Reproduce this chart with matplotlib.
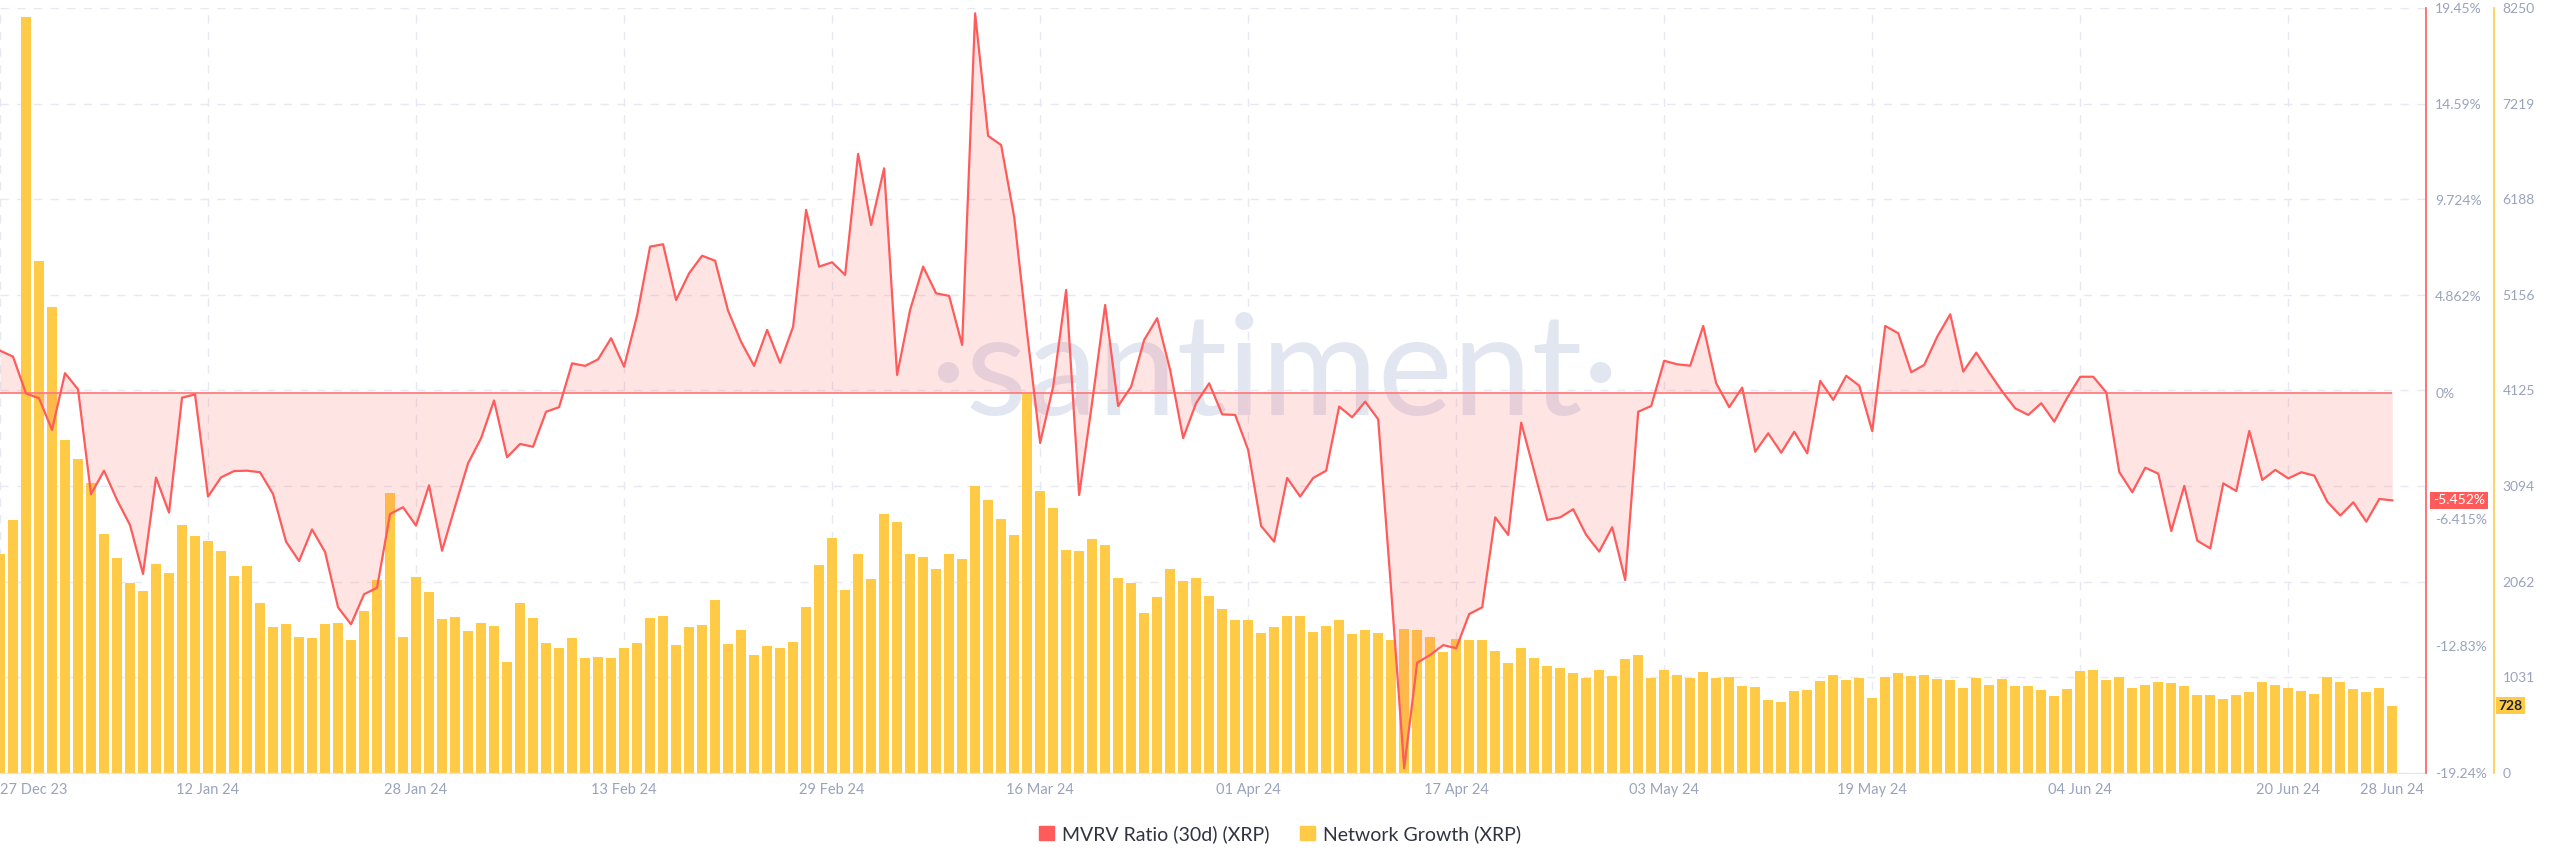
import pandas as pd
import matplotlib
matplotlib.use('Agg')
import matplotlib.pyplot as plt
from matplotlib.patches import Patch

# Daily values, 27 Dec 2023 -> 28 Jun 2024
dates = pd.date_range('2023-12-27', '2024-06-28', freq='D')

network_growth = [
    2358, 2732, 8156, 5521, 5025, 3595, 3390, 3128, 2581, 2315,
    2049, 1959, 2250, 2153, 2678, 2556, 2499, 2394, 2125, 2236,
    1833, 1571, 1611, 1467, 1452, 1603, 1618, 1438, 1747, 2078,
    3016, 1463, 2110, 1952, 1657, 1686, 1535, 1621, 1582, 1197,
    1833, 1672, 1406, 1352, 1456, 1244, 1255, 1237, 1345, 1406,
    1672, 1693, 1380, 1571, 1596, 1866, 1391, 1539, 1269, 1373,
    1345, 1409, 1787, 2243, 2531, 1970, 2358, 2092, 2793, 2703,
    2366, 2326, 2200, 2366, 2304, 3099, 2944, 2743, 2570, 4090,
    3041, 2862, 2409, 2394, 2524, 2463, 2100, 2046, 1729, 1895,
    2197, 2071, 2100, 1913, 1769, 1647, 1647, 1510, 1575, 1693,
    1697, 1521, 1582, 1647, 1496, 1539, 1513, 1438, 1553, 1542,
    1467, 1309, 1445, 1434, 1431, 1319, 1183, 1348, 1240, 1158,
    1129, 1075, 1028, 1107, 1043, 1229, 1276, 1028, 1107, 1061,
    1021, 1089, 1021, 1035, 942, 928, 784, 769, 884, 892,
    989, 1061, 1007, 1021, 812, 1032, 1075, 1043, 1053, 1014,
    999, 920, 1025, 945, 1010, 938, 935, 892, 827, 910,
    1096, 1114, 1007, 1039, 913, 949, 981, 971, 935, 838,
    838, 798, 845, 874, 985, 945, 913, 881, 848, 1039,
    978, 910, 874, 917, 728,
]

mvrv_30d = [
    2.12, 1.82, -0.04, -0.29, -1.89, 0.98, 0.17, -5.14, -3.95, -5.43,
    -6.70, -9.17, -4.30, -6.07, -0.26, -0.09, -5.26, -4.29, -3.97, -3.95,
    -4.03, -5.13, -7.54, -8.52, -6.92, -8.06, -10.86, -11.72, -10.20, -9.87,
    -6.14, -5.80, -6.73, -4.69, -8.00, -5.77, -3.58, -2.31, -0.40, -3.27,
    -2.60, -2.74, -0.97, -0.74, 1.48, 1.35, 1.68, 2.75, 1.31, 3.90,
    7.38, 7.50, 4.68, 6.03, 6.92, 6.67, 4.14, 2.57, 1.35, 3.17,
    1.51, 3.33, 9.24, 6.37, 6.59, 5.95, 12.07, 8.48, 11.34, 0.89,
    4.18, 6.37, 5.02, 4.89, 2.41, 19.18, 12.98, 12.52, 8.90, 3.00,
    -2.55, 0.30, 5.19, -5.18, -0.50, 4.43, -0.68, 0.30, 2.66, 3.76,
    1.14, -2.30, -0.53, 0.47, -1.10, -1.13, -2.90, -6.75, -7.54, -4.32,
    -5.26, -4.32, -3.95, -0.71, -1.25, -0.46, -1.35, -10.00, -19.00, -13.66,
    -13.27, -12.77, -12.93, -11.20, -10.86, -6.31, -7.20, -1.52, -3.98, -6.44,
    -6.31, -5.90, -7.20, -8.04, -6.81, -9.48, -0.97, -0.68, 1.61, 1.43,
    1.36, 3.37, 0.47, -0.74, 0.25, -2.99, -2.06, -3.04, -1.98, -3.07,
    0.59, -0.37, 0.85, 0.35, -1.95, 3.37, 3.00, 1.03, 1.40, 2.83,
    3.96, 1.06, 2.02, 1.01, 0.05, -0.80, -1.13, -0.54, -1.47, -0.26,
    0.80, 0.80, 0.01, -4.02, -5.04, -3.80, -4.10, -7.00, -4.72, -7.49,
    -7.88, -4.59, -4.98, -1.94, -4.42, -3.91, -4.34, -4.03, -4.20, -5.52,
    -6.22, -5.55, -6.53, -5.38, -5.452,
]

mvrv_ticks = [19.45, 14.59, 9.724, 4.862, 0, -6.415, -12.83, -19.24]
mvrv_tick_labels = ['19.45%', '14.59%', '9.724%', '4.862%', '0%', '-6.415%', '-12.83%', '-19.24%']
growth_ticks = [0, 1031, 2062, 3094, 4125, 5156, 6188, 7219, 8250]
date_ticks = ['2023-12-27', '2024-01-12', '2024-01-28', '2024-02-13', '2024-02-29',
              '2024-03-16', '2024-04-01', '2024-04-17', '2024-05-03', '2024-05-19',
              '2024-06-04', '2024-06-20', '2024-06-28']
date_tick_labels = ['27 Dec 23', '12 Jan 24', '28 Jan 24', '13 Feb 24', '29 Feb 24',
                    '16 Mar 24', '01 Apr 24', '17 Apr 24', '03 May 24', '19 May 24',
                    '04 Jun 24', '20 Jun 24', '28 Jun 24']

RED = '#FF5B5B'
YELLOW = '#FFCB47'
TICK_GREY = '#9aa3bd'
GRID = '#e6e9f2'

plt.rcParams['font.family'] = ['Lato', 'DejaVu Sans']

fig = plt.figure(figsize=(25.6, 8.67), dpi=100)
ax = fig.add_axes([0.0, 0.1084, 0.9477, 0.8824])

# watermark behind everything
ax.text(0.525, 0.52, '\u00b7santiment\u00b7', transform=ax.transAxes, fontsize=102,
        color='#e2e6f0', ha='center', va='center', zorder=0)

# network growth bars
ax.bar(dates, network_growth, width=0.74, color=YELLOW, zorder=2)
ax.set_ylim(0, 8250)
ax.set_xlim(dates[0], dates[0] + pd.Timedelta(days=186.6))

# mvrv on the twin axis
ax2 = ax.twinx()
ax2.fill_between(dates, mvrv_30d, 0, color=RED, alpha=0.16, linewidth=0, zorder=1)
ax2.hlines(0, dates[0], dates[-1], color='#ff7d7d', linewidth=1.3, zorder=2)
ax2.plot(dates, mvrv_30d, color=RED, linewidth=1.6, zorder=3)
ax2.set_ylim(-19.24, 19.45)
ax2.set_yticks(mvrv_ticks)
ax2.set_yticklabels(mvrv_tick_labels)
ax2.tick_params(axis='y', length=0, pad=6.5, labelcolor=TICK_GREY, labelsize=10)
for s in ['left', 'top', 'bottom']:
    ax2.spines[s].set_visible(False)
ax2.spines['right'].set_color(RED)
ax2.spines['right'].set_linewidth(1.2)

# growth axis sits further right
ax.yaxis.tick_right()
ax.set_yticks(growth_ticks)
ax.set_yticklabels([str(v) for v in growth_ticks])
ax.tick_params(axis='y', length=0, pad=6, labelcolor=TICK_GREY, labelsize=10)
ax.spines['right'].set_position(('outward', 49))
ax.spines['right'].set_color(YELLOW)
ax.spines['right'].set_linewidth(1.2)
ax.spines['left'].set_visible(False)
ax.spines['top'].set_visible(False)
ax.spines['bottom'].set_color('#e3e7ef')

ax.set_xticks(pd.to_datetime(date_ticks))
ax.set_xticklabels(date_tick_labels)
ax.tick_params(axis='x', length=0, pad=7, labelcolor=TICK_GREY, labelsize=10.5)
ax.get_xticklabels()[0].set_ha('left')

ax.grid(True, linestyle=(0, (6, 6)), color=GRID, linewidth=1.0)
ax.xaxis.get_gridlines()[-1].set_visible(False)

# last value badges
ax2.annotate(f'{mvrv_30d[-1]:.3f}%', xy=(1, mvrv_30d[-1]), xycoords=('axes fraction', 'data'),
             xytext=(5, 0), textcoords='offset points', ha='left', va='center',
             color='white', fontsize=10, annotation_clip=False,
             bbox=dict(boxstyle='square,pad=0.2', fc=RED, ec='none'))
ax.annotate(f'{network_growth[-1]}', xy=(1, network_growth[-1]), xycoords=('axes fraction', 'data'),
            xytext=(52, 0), textcoords='offset points', ha='left', va='center',
            color='#1e2230', fontsize=10, fontweight='bold', annotation_clip=False,
            bbox=dict(boxstyle='square,pad=0.2', fc=YELLOW, ec='none'))

handles = [Patch(color=RED), Patch(color=YELLOW)]
fig.legend(handles, ['MVRV Ratio (30d) (XRP)', 'Network Growth (XRP)'], loc='center',
           bbox_to_anchor=(0.5, 0.038), ncol=2, frameon=False, fontsize=14,
           handlelength=0.75, handleheight=0.75, handletextpad=0.4, columnspacing=1.6,
           labelcolor='#2f3441')

fig.savefig('out.png', dpi=100)
